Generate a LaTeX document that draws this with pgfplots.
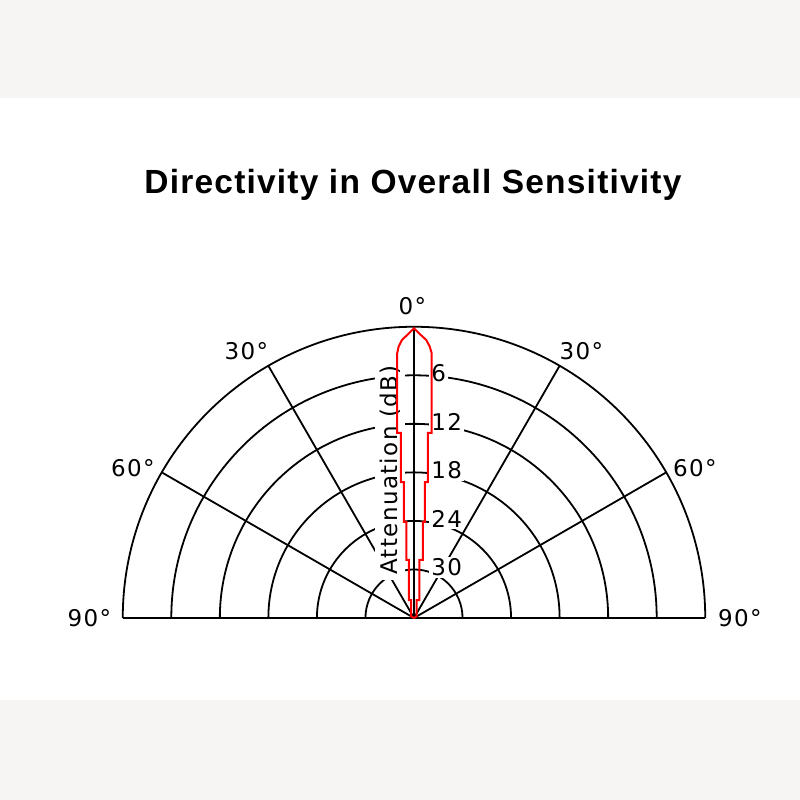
\documentclass[border=0pt]{standalone}
\usepackage{fontspec}
\setmainfont{DejaVu Sans}
\newfontfamily\titlefam[LetterSpace=3.6]{Liberation Sans}
\newfontfamily\lblfam[LetterSpace=6]{DejaVu Sans}
\usepackage{pgfplots}
\pgfplotsset{compat=1.18}
\definecolor{bandgray}{RGB}{247,244,244}
\newcommand\lblfont{\lblfam\fontsize{11.5}{13}\selectfont}
\newcommand\titlefont{\titlefam\bfseries\fontsize{16.75}{20}\selectfont}
\begin{document}
\begin{tikzpicture}
\begin{axis}[
  x=4.045pt, y=4.045pt,
  xmin=-36, xmax=36, ymin=0, ymax=36,
  hide axis, clip=false,
]
% background
\fill[white] ([shift={(-207pt,-91pt)}]axis cs:0,0) rectangle ([shift={(193pt,309pt)}]axis cs:0,0);
\fill[bandgray] ([shift={(-207pt,260.25pt)}]axis cs:0,0) rectangle ([shift={(193pt,309pt)}]axis cs:0,0);
\fill[bandgray] ([shift={(-207pt,-91pt)}]axis cs:0,0) rectangle ([shift={(193pt,-41pt)}]axis cs:0,0);
% title
\node[font=\titlefont, anchor=base, inner sep=0pt] at ([shift={(-0.5pt,212.5pt)}]axis cs:0,0) {Directivity in Overall Sensitivity};
% polar grid
\draw[line width=0.9pt] (axis cs:-6,0) arc[start angle=180,end angle=0,radius=24.27pt];
\draw[line width=0.9pt] (axis cs:-12,0) arc[start angle=180,end angle=0,radius=48.54pt];
\draw[line width=0.9pt] (axis cs:-18,0) arc[start angle=180,end angle=0,radius=72.81pt];
\draw[line width=0.9pt] (axis cs:-24,0) arc[start angle=180,end angle=0,radius=97.08pt];
\draw[line width=0.9pt] (axis cs:-30,0) arc[start angle=180,end angle=0,radius=121.35pt];
\draw[line width=0.9pt] (axis cs:-36,0) arc[start angle=180,end angle=0,radius=145.62pt];
\draw[line width=0.9pt] (axis cs:0,0) -- (axis cs:-18,31.1769);
\draw[line width=0.9pt] (axis cs:0,0) -- (axis cs:18,31.1769);
\draw[line width=0.9pt] (axis cs:0,0) -- (axis cs:-31.1769,18);
\draw[line width=0.9pt] (axis cs:0,0) -- (axis cs:31.1769,18);
\draw[line width=1pt] (axis cs:0,0) -- (axis cs:0,36);
\draw[line width=1.1pt] (axis cs:-36,0) -- (axis cs:36,0);
% angle labels
\node[font=\lblfont, inner sep=0pt] at ([shift={(-0.75pt,156pt)}]axis cs:0,0) {0°};
\node[font=\lblfont, inner sep=0pt] at ([shift={(-83.75pt,133.25pt)}]axis cs:0,0) {30°};
\node[font=\lblfont, inner sep=0pt] at ([shift={(83.75pt,133.25pt)}]axis cs:0,0) {30°};
\node[font=\lblfont, inner sep=0pt] at ([shift={(-140.5pt,74.75pt)}]axis cs:0,0) {60°};
\node[font=\lblfont, inner sep=0pt] at ([shift={(140.5pt,74.75pt)}]axis cs:0,0) {60°};
\node[font=\lblfont, inner sep=0pt] at ([shift={(-162.25pt,0pt)}]axis cs:0,0) {90°};
\node[font=\lblfont, inner sep=0pt] at ([shift={(163pt,0pt)}]axis cs:0,0) {90°};
% radial labels
\node[font=\lblfont, anchor=west, fill=white, inner sep=1pt] at ([shift={(7.5pt,1pt)}]axis cs:0,30) {6};
\node[font=\lblfont, anchor=west, fill=white, inner sep=1pt] at ([shift={(7.5pt,1pt)}]axis cs:0,24) {12};
\node[font=\lblfont, anchor=west, fill=white, inner sep=1pt] at ([shift={(7.5pt,1pt)}]axis cs:0,18) {18};
\node[font=\lblfont, anchor=west, fill=white, inner sep=1pt] at ([shift={(7.5pt,1pt)}]axis cs:0,12) {24};
\node[font=\lblfont, anchor=west, fill=white, inner sep=1pt] at ([shift={(7.5pt,1pt)}]axis cs:0,6) {30};
\node[font=\lblfont, rotate=90, fill=white, inner sep=2.5pt] at ([shift={(-12pt,74pt)}]axis cs:0,0) {Attenuation (dB)};
% directivity pattern
\addplot[red, line width=1pt, line join=miter] coordinates {
(0,0) (-0.35,0.2) (-0.35,2.22) (-0.64,2.22) (-0.64,7.17) (-0.93,7.17)
(-0.93,11.87) (-1.26,11.87) (-1.26,16.81) (-1.62,16.81) (-1.62,22.87)
(-2.08,22.87) (-2.08,32.72) (-1.90,33.54) (-1.50,34.36) (-0.62,35.19)
(0,35.81)
(0.62,35.19) (1.52,34.36) (1.95,33.54) (2.19,32.72) (2.19,22.87)
(1.72,22.87) (1.72,16.81) (1.34,16.81) (1.34,11.87) (1.09,11.87)
(1.09,7.17) (0.68,7.17) (0.68,2.22) (0.31,2.22) (0.31,0.2) (0,0)
};
\end{axis}
\end{tikzpicture}
\end{document}
